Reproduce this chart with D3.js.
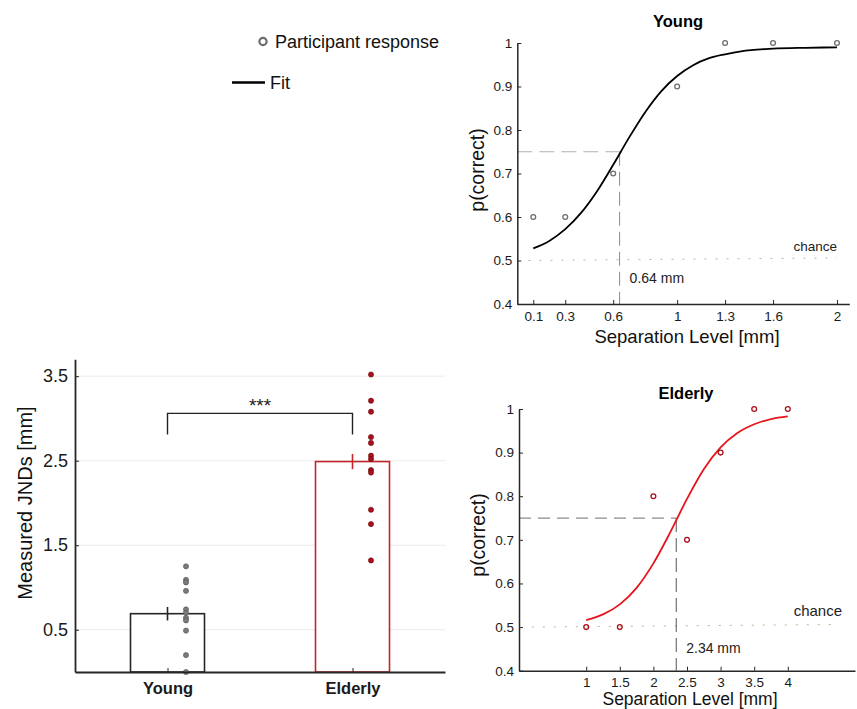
<!DOCTYPE html>
<html>
<head>
<meta charset="utf-8">
<script src="https://cdn.jsdelivr.net/npm/d3@7"></script>
<style>
  body { margin: 0; background: #fff; }
  svg { font-family: "Liberation Sans", Arial, Helvetica, sans-serif; }
  .axis path, .axis line { stroke: #262626; }
  .axis text { fill: #1a1a1a; }
</style>
</head>
<body>
<svg id="chart" width="857" height="709"></svg>
<script>
// ---- data ----
var youngLevels = [0.1, 0.3, 0.6, 1, 1.3, 1.6, 2];
var youngPC = [0.6, 0.6, 0.7, 0.9, 1, 1, 1];
var youngFitX = [0.1, 0.2, 0.3, 0.4, 0.5, 0.6, 0.7, 0.8, 0.9, 1.0, 1.1, 1.2, 1.3, 1.4, 1.6, 1.8, 2.0];
var youngFitY = [0.528, 0.545, 0.572, 0.610, 0.660, 0.720, 0.783, 0.841, 0.889, 0.924, 0.949, 0.965, 0.974, 0.981, 0.987, 0.989, 0.990];
var youngJND = 0.64;
var youngXTicks = [0.1, 0.3, 0.6, 1, 1.3, 1.6, 2];

var elderlyLevels = [1, 1.5, 2, 2.5, 3, 3.5, 4];
var elderlyPC = [0.5, 0.5, 0.8, 0.7, 0.9, 1, 1];
var elderlyFitX = [1.0, 1.25, 1.5, 1.75, 2.0, 2.25, 2.5, 2.75, 3.0, 3.25, 3.5, 3.75, 4.0];
var elderlyFitY = [0.516, 0.529, 0.552, 0.590, 0.646, 0.717, 0.794, 0.862, 0.912, 0.945, 0.965, 0.977, 0.983];
var elderlyJND = 2.34;
var elderlyXTicks = [1, 1.5, 2, 2.5, 3, 3.5, 4];

var pTicks = [0.4, 0.5, 0.6, 0.7, 0.8, 0.9, 1];

var groups = ["Young", "Elderly"];
var meanJND = [0.69, 2.49];
var semJND = [0.08, 0.09];
var youngJNDs = [1.25, 1.09, 1.06, 0.96, 0.74, 0.70, 0.64, 0.61, 0.49, 0.20, 0.0];
var elderlyJNDs = [3.52, 3.21, 3.08, 2.78, 2.71, 2.56, 2.52, 2.39, 2.36, 1.92, 1.75, 1.32];
var jndTicks = [0.5, 1.5, 2.5, 3.5];

var svg = d3.select("#chart");
var fmt = d3.format("~g");

// ---- legend ----
var legend = svg.append("g");
legend.append("circle")
    .attr("cx", 263).attr("cy", 41.5).attr("r", 3.6)
    .attr("fill", "none").attr("stroke", "#6b6b6b").attr("stroke-width", 2.2);
legend.append("text")
    .attr("x", 275).attr("y", 48)
    .attr("font-size", "18px").attr("fill", "#111")
    .text("Participant response");
legend.append("line")
    .attr("x1", 232).attr("x2", 265).attr("y1", 82.5).attr("y2", 82.5)
    .attr("stroke", "#000").attr("stroke-width", 2.5);
legend.append("text")
    .attr("x", 270).attr("y", 89)
    .attr("font-size", "18px").attr("fill", "#111")
    .text("Fit");

// ---- psychometric panels ----
function drawPsych(opt) {
    var x = d3.scaleLinear().domain(opt.xDomain).range(opt.xRange);
    var y = d3.scaleLinear().domain([0.4, 1]).range(opt.yRange);
    var g = svg.append("g");

    // chance line
    g.append("line")
        .attr("x1", x(opt.chanceFrom)).attr("x2", x(opt.chanceTo))
        .attr("y1", y(0.5)).attr("y2", y(0.506))
        .attr("stroke", "#b9b896").attr("stroke-width", 1)
        .attr("stroke-dasharray", "2,9");
    g.append("text")
        .attr("x", opt.chanceX).attr("y", opt.chanceY)
        .attr("text-anchor", "end")
        .attr("font-size", opt.chanceSize).attr("fill", "#222")
        .text("chance");

    // threshold lines
    g.append("line")
        .attr("x1", x(opt.xDomain[0])).attr("x2", x(opt.jnd))
        .attr("y1", y(0.75)).attr("y2", y(0.75))
        .attr("stroke", opt.dashColor).attr("stroke-width", 1.2)
        .attr("stroke-dasharray", opt.dash);
    g.append("line")
        .attr("x1", x(opt.jnd)).attr("x2", x(opt.jnd))
        .attr("y1", y(0.75)).attr("y2", y(0.4))
        .attr("stroke", opt.vDashColor).attr("stroke-width", 1)
        .attr("stroke-dasharray", "14,6");
    g.append("text")
        .attr("x", x(opt.jnd) + 10).attr("y", opt.jndLabelY)
        .attr("font-size", "14px").attr("fill", "#222")
        .text(opt.jnd + " mm");

    // fit
    var line = d3.line()
        .x(function(d, i) { return x(opt.fitX[i]); })
        .y(function(d) { return y(d); })
        .curve(d3.curveMonotoneX);
    g.append("path")
        .datum(opt.fitY)
        .attr("fill", "none")
        .attr("stroke", opt.fitColor)
        .attr("stroke-width", 1.8)
        .attr("d", line);

    // participant points
    g.selectAll(".pt")
        .data(opt.pc)
        .enter().append("circle")
        .attr("cx", function(d, i) { return x(opt.levels[i]); })
        .attr("cy", function(d) { return y(d); })
        .attr("r", 2.4)
        .attr("fill", "none")
        .attr("stroke", opt.ptColor)
        .attr("stroke-width", 1.3);

    // axes
    g.append("g")
        .attr("class", "axis")
        .attr("transform", "translate(0," + opt.yRange[0] + ")")
        .call(d3.axisBottom(x).tickValues(opt.xTicks).tickFormat(fmt)
            .tickSizeInner(-4).tickSizeOuter(0).tickPadding(7))
        .call(function(a) {
            a.select(".domain").attr("stroke-width", 1.5);
            a.selectAll("text").attr("font-size", "13.5px");
        });
    g.append("g")
        .attr("class", "axis")
        .attr("transform", "translate(" + opt.xRange[0] + ",0)")
        .call(d3.axisLeft(y).tickValues(pTicks).tickFormat(fmt)
            .tickSizeInner(-4).tickSizeOuter(0).tickPadding(5))
        .call(function(a) {
            a.select(".domain").attr("stroke-width", 1.5);
            a.selectAll("text").attr("font-size", "13.5px");
        });

    // labels
    g.append("text")
        .attr("x", opt.titleX).attr("y", opt.titleY)
        .attr("text-anchor", "middle")
        .attr("font-weight", "bold").attr("font-size", "16.5px")
        .text(opt.title);
    g.append("text")
        .attr("x", opt.xLabelX).attr("y", opt.xLabelY)
        .attr("text-anchor", "middle")
        .attr("font-size", opt.xLabelSize).attr("fill", "#111")
        .text("Separation Level [mm]");
    g.append("text")
        .attr("transform", "translate(" + opt.yLabelX + "," + opt.yLabelY + ") rotate(-90)")
        .attr("text-anchor", "middle")
        .attr("font-size", "19.5px").attr("fill", "#111")
        .text("p(correct)");
}

drawPsych({
    xDomain: [0, 2.077], xRange: [517.3, 849.3], yRange: [304, 43],
    levels: youngLevels, pc: youngPC, fitX: youngFitX, fitY: youngFitY,
    jnd: youngJND, xTicks: youngXTicks,
    fitColor: "#000", ptColor: "#6e6e6e",
    dash: "15,7", dashColor: "#b3b3b3", vDashColor: "#8a8a8a",
    chanceFrom: 0.07, chanceTo: 2.0, chanceX: 837, chanceY: 251, chanceSize: "13.5px",
    jndLabelY: 283,
    title: "Young", titleX: 678, titleY: 27,
    xLabelX: 687, xLabelY: 343, xLabelSize: "18.5px", yLabelX: 484, yLabelY: 170
});

drawPsych({
    xDomain: [0, 5], xRange: [519, 855], yRange: [670.7, 409],
    levels: elderlyLevels, pc: elderlyPC, fitX: elderlyFitX, fitY: elderlyFitY,
    jnd: elderlyJND, xTicks: elderlyXTicks,
    fitColor: "#e8141c", ptColor: "#a8101a",
    dash: "12,7", dashColor: "#8c8c8c", vDashColor: "#555",
    chanceFrom: 0.19, chanceTo: 4.77, chanceX: 842, chanceY: 616, chanceSize: "15px",
    jndLabelY: 653,
    title: "Elderly", titleX: 686, titleY: 399,
    xLabelX: 690, xLabelY: 705, xLabelSize: "17.5px", yLabelX: 485, yLabelY: 535
});

// ---- bar panel ----
var bx = d3.scaleLinear().domain([0.5, 2.5]).range([75, 445]);
var by = d3.scaleLinear().domain([0, 3.7]).range([672, 359.3]);
var bar = svg.append("g");
var barColors = ["#262626", "#c0262c"];
var dotFill = ["#7a7a7a", "#a8101a"];
var dotStroke = ["#555", "#6e0a10"];
var allJNDs = [youngJNDs, elderlyJNDs];

bar.selectAll(".grid")
    .data(jndTicks)
    .enter().append("line")
    .attr("x1", bx(0.5)).attr("x2", bx(2.5))
    .attr("y1", function(d) { return by(d); })
    .attr("y2", function(d) { return by(d); })
    .attr("stroke", "#ebebeb").attr("stroke-width", 1);

bar.selectAll(".bar")
    .data(meanJND)
    .enter().append("rect")
    .attr("x", function(d, i) { return bx(i + 1 - 0.2); })
    .attr("width", bx(1.2) - bx(0.8))
    .attr("y", function(d) { return by(d); })
    .attr("height", function(d) { return by(0) - by(d); })
    .attr("fill", "#fff")
    .attr("stroke", function(d, i) { return barColors[i]; })
    .attr("stroke-width", 1.6);

bar.selectAll(".err")
    .data(meanJND)
    .enter().append("line")
    .attr("x1", function(d, i) { return bx(i + 1); })
    .attr("x2", function(d, i) { return bx(i + 1); })
    .attr("y1", function(d, i) { return by(d + semJND[i]); })
    .attr("y2", function(d, i) { return by(d - semJND[i]); })
    .attr("stroke", function(d, i) { return barColors[i]; })
    .attr("stroke-width", 1.6);

allJNDs.forEach(function(vals, gi) {
    bar.selectAll(".dot" + gi)
        .data(vals)
        .enter().append("circle")
        .attr("cx", bx(gi + 1.1))
        .attr("cy", function(d) { return by(d); })
        .attr("r", 2.6)
        .attr("fill", dotFill[gi])
        .attr("stroke", dotStroke[gi])
        .attr("stroke-width", 0.6);
});

// significance bracket
var brY = by(3.06), legY = by(2.81);
bar.append("path")
    .attr("d", "M" + bx(1) + "," + legY + "V" + brY + "H" + bx(2) + "V" + legY)
    .attr("fill", "none").attr("stroke", "#222").attr("stroke-width", 1.4);
bar.append("text")
    .attr("x", bx(1.5)).attr("y", brY - 1)
    .attr("text-anchor", "middle")
    .attr("font-size", "19px").attr("fill", "#222")
    .text("***");

bar.append("g")
    .attr("class", "axis")
    .attr("transform", "translate(0," + by(0) + ")")
    .call(d3.axisBottom(bx).tickValues([1, 2]).tickFormat(function(d) { return groups[d - 1]; })
        .tickSizeInner(-4).tickSizeOuter(0).tickPadding(10))
    .call(function(a) {
        a.select(".domain").attr("stroke-width", 1.8);
        a.selectAll("text").attr("font-size", "16.5px").attr("font-weight", "bold").attr("fill", "#000");
    });
bar.append("g")
    .attr("class", "axis")
    .attr("transform", "translate(" + bx(0.5) + ",0)")
    .call(d3.axisLeft(by).tickValues(jndTicks).tickFormat(fmt)
        .tickSizeInner(-4).tickSizeOuter(0).tickPadding(7))
    .call(function(a) {
        a.select(".domain").attr("stroke-width", 1.8);
        a.selectAll("text").attr("font-size", "18px");
    });
bar.append("text")
    .attr("transform", "translate(32,503) rotate(-90)")
    .attr("text-anchor", "middle")
    .attr("font-size", "20px").attr("fill", "#111")
    .text("Measured JNDs [mm]");
</script>
</body>
</html>
